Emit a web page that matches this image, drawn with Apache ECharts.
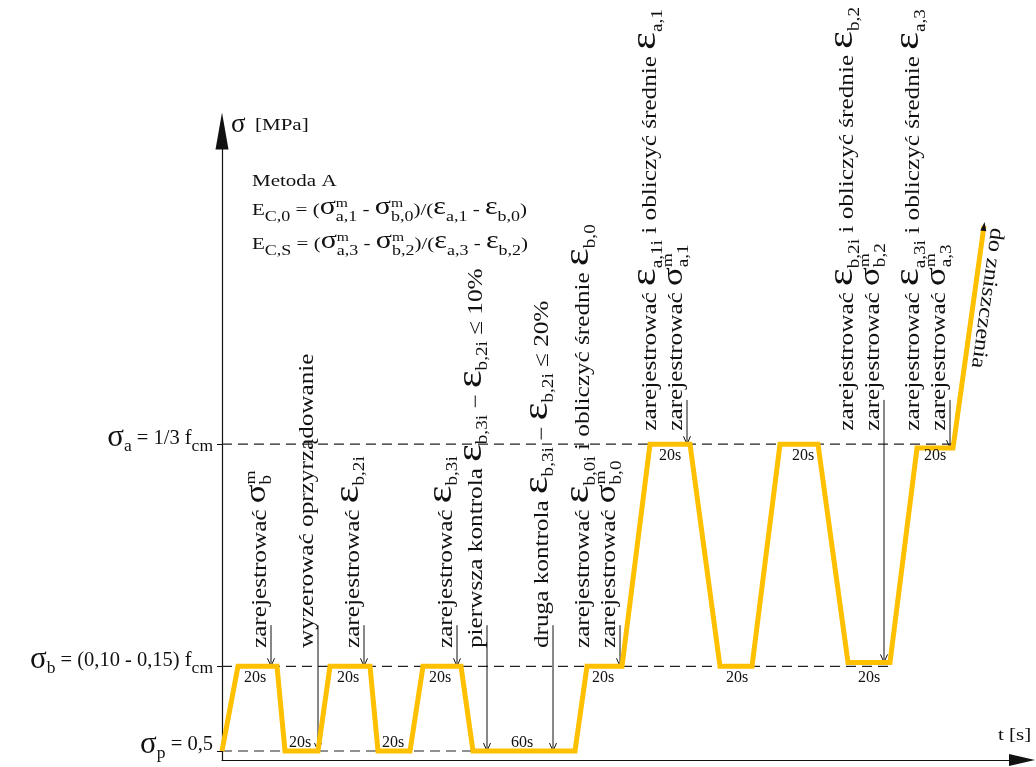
<!DOCTYPE html>
<html>
<head>
<meta charset="utf-8">
<script src="https://cdn.jsdelivr.net/npm/echarts@6/dist/echarts.min.js"></script>
<style>html,body{margin:0;padding:0;background:#fff}#c{width:1036px;height:767px}</style>
</head>
<body>
<div id="c"></div>
<script>
// ---------------- data ----------------
// stress levels in relative units (the diagram is not to scale)
const levelValues = [1.4, 14.6, 49.2];               // sigma_p, sigma_b, sigma_a
const levelLabels = [
  '{g|σ}{sub|p}{n| = 0,5}',
  '{g|σ}{sub|b}{n| = (0,10 - 0,15) f}{sub|cm}',
  '{g|σ}{sub|a}{n| = 1/3 f}{sub|cm}'
];
const levelLineEnds = [176.5, 334, 365.5];           // time where each dashed level line ends [s]

// loading programme: time [s] and stress
const profileTimes  = [0, 8, 27.5, 31.5, 48, 54, 74, 78, 94, 100.5, 119.5, 125.5, 176.5, 182.5, 200, 214, 234, 249, 265, 279, 298, 313, 334, 347.5, 365.5, 381];
const profileStress = [1.4, 14.6, 14.6, 1.4, 1.4, 14.6, 14.6, 1.4, 1.4, 14.6, 14.6, 1.4, 1.4, 14.6, 14.6, 49.2, 49.2, 14.6, 14.6, 49.2, 49.2, 15.2, 15.2, 48.6, 48.6, 83.2];

// holding-time labels
const durationTimes  = [16.5, 39, 63, 85.5, 109, 150, 190.5, 224, 257.5, 290.5, 323.5, 356.5];
const durationLevels = [14.6, 1.4, 14.6, 1.4, 14.6, 1.4, 14.6, 49.2, 14.6, 49.2, 14.6, 49.2];
const durationTexts  = ['20s', '20s', '20s', '20s', '20s', '60s', '20s', '20s', '20s', '20s', '20s', '20s'];

// instructions with arrows
const noteTimes     = [24.5, 48, 71, 117.5, 132.5, 165.5, 199, 232.5, 331, 364];
const noteArrowFrom = [21, 21, 21, 21, 21, 21, 21, 56.1, 56.1, 56.1];
const noteArrowTo   = [14.6, 1.4, 14.6, 14.6, 1.4, 1.4, 14.6, 49.2, 15.2, 48.6];
const noteTextFrom  = [17.45, 17.45, 17.45, 17.45, 17.45, 17.45, 17.45, 51.3, 51.3, 51.3];
const noteTexts = [
  ['{n|zarejestrować }{g|σ}{sup|m}{sub|b}'],
  ['{n|wyzerować oprzyrządowanie}'],
  ['{n|zarejestrować }{e|ε}{sub|b,2i}'],
  ['{n|zarejestrować }{e|ε}{sub|b,3i}'],
  ['{n|pierwsza kontrola }{e|ε}{sub|b,3i}{n| − }{e|ε}{sub|b,2i}{n| ≤ 10%}'],
  ['{n|druga kontrola }{e|ε}{sub|b,3i}{n| − }{e|ε}{sub|b,2i}{n| ≤ 20%}'],
  ['{n|zarejestrować }{e|ε}{sub|b,0i}{n| i obliczyć średnie }{e|ε}{sub|b,0}', '{n|zarejestrować }{g|σ}{sup|m}{sub|b,0}'],
  ['{n|zarejestrować }{e|ε}{sub|a,1i}{n| i obliczyć średnie }{e|ε}{sub|a,1}', '{n|zarejestrować }{g|σ}{sup|m}{sub|a,1}'],
  ['{n|zarejestrować }{e|ε}{sub|b,2i}{n| i obliczyć średnie }{e|ε}{sub|b,2}', '{n|zarejestrować }{g|σ}{sup|m}{sub|b,2}'],
  ['{n|zarejestrować }{e|ε}{sub|a,3i}{n| i obliczyć średnie }{e|ε}{sub|a,3}', '{n|zarejestrować }{g|σ}{sup|m}{sub|a,3}']
];
const failureText = 'do zniszczenia';

const formulaLines = [
  '{n|Metoda A}',
  '{n|E}{sub|C,0}{n| = (}{g|σ}{sup|m}{sub|a,1}{n| - }{g|σ}{sup|m}{sub|b,0}{n|)/(}{g|ε}{sub|a,1}{n| - }{g|ε}{sub|b,0}{n|)}',
  '{n|E}{sub|C,S}{n| = (}{g|σ}{sup|m}{sub|a,3}{n| - }{g|σ}{sup|m}{sub|b,2}{n|)/(}{g|ε}{sub|a,3}{n| - }{g|ε}{sub|b,2}{n|)}'
];
const yAxisName = '[MPa]';
const xAxisName = 't [s]';

// ---------------- styles ----------------
const INK = '#111';
const ORANGE = '#FFC000';
const SERIF = '"Liberation Serif", "Times New Roman", Times, serif';

const RICH_ROT = {
  n:   {fontFamily: SERIF, fontSize: 21, lineHeight: 30, verticalAlign: 'middle', fill: INK},
  g:   {fontFamily: SERIF, fontSize: 29, lineHeight: 30, verticalAlign: 'middle', padding: [0, 0, 5, 0], fill: INK},
  e:   {fontFamily: SERIF, fontSize: 35, lineHeight: 30, verticalAlign: 'middle', padding: [0, 0, 9, 0], fill: INK},
  sub: {fontFamily: SERIF, fontSize: 16, lineHeight: 30, verticalAlign: 'middle', padding: [14, 0, 0, 0], fill: INK},
  sup: {fontFamily: SERIF, fontSize: 15, lineHeight: 30, verticalAlign: 'middle', padding: [0, -11.7, 17, 0], fill: INK}
};
const RICH_HOR = {
  n:   {fontFamily: SERIF, fontSize: 17.5, lineHeight: 26, verticalAlign: 'middle', fill: INK},
  g:   {fontFamily: SERIF, fontSize: 25, lineHeight: 26, verticalAlign: 'middle', padding: [0, 0, 5, 0], fill: INK},
  sub: {fontFamily: SERIF, fontSize: 15, lineHeight: 26, verticalAlign: 'middle', padding: [13.5, 0, 0, 0], fill: INK},
  sup: {fontFamily: SERIF, fontSize: 13, lineHeight: 26, verticalAlign: 'middle', padding: [0, -10.1, 13, 0], fill: INK}
};
const RICH_AXIS = {
  n:   {fontFamily: SERIF, fontSize: 20.5, lineHeight: 30, verticalAlign: 'middle', color: INK},
  g:   {fontFamily: SERIF, fontSize: 31, lineHeight: 30, verticalAlign: 'middle', color: INK},
  sub: {fontFamily: SERIF, fontSize: 17.5, lineHeight: 30, verticalAlign: 'middle', padding: [17, 0, 0, 0], color: INK}
};

// ---------------- render helpers ----------------
function renderDuration(params, api) {
  const i = params.dataIndex;
  const p = api.coord([durationTimes[i], durationLevels[i]]);
  const above = durationLevels[i] === levelValues[0];
  return {
    type: 'text', x: p[0], y: p[1] + (above ? -8 : 12),
    style: {legacy: false, text: durationTexts[i], fontFamily: SERIF, fontSize: 16, fill: INK, align: 'center', verticalAlign: 'middle'}
  };
}

function renderNote(params, api) {
  const i = params.dataIndex;
  const top = api.coord([noteTimes[i], noteArrowFrom[i]]);
  const tip = api.coord([noteTimes[i], noteArrowTo[i]]);
  const base = api.coord([noteTimes[i], noteTextFrom[i]]);
  const lines = noteTexts[i];
  const children = [
    {type: 'line', shape: {x1: top[0], y1: top[1], x2: tip[0], y2: tip[1]}, style: {stroke: INK, lineWidth: 1}},
    {type: 'polyline', shape: {points: [[tip[0] - 3.5, tip[1] - 8], [tip[0], tip[1]], [tip[0] + 3.5, tip[1] - 8]]}, style: {stroke: INK, fill: null, lineWidth: 1}}
  ];
  lines.forEach(function (txt, k) {
    const dx = (lines.length === 1 ? -11 : -10.5) - 26 * (lines.length - 1 - k);
    children.push({
      type: 'text', x: base[0] + dx, y: base[1], rotation: Math.PI / 2, scaleX: 1.2, scaleY: 1,
      style: {legacy: false, text: txt, rich: RICH_ROT, fill: INK, fontFamily: SERIF, fontSize: 21, align: 'left', verticalAlign: 'middle'}
    });
  });
  return {type: 'group', children: children};
}

function renderFailure(params, api) {
  const n = profileTimes.length;
  const a = api.coord([profileTimes[n - 2], profileStress[n - 2]]);
  const b = api.coord([profileTimes[n - 1], profileStress[n - 1]]);
  const vx = a[0] - b[0], vy = a[1] - b[1];
  const len = Math.sqrt(vx * vx + vy * vy);
  const ux = vx / len, uy = vy / len;          // unit vector pointing down along the line
  const nx = -uy, ny = ux;                       // normal
  const px = -nx, py = -ny;                      // normal to the right side
  const f = 0.317;
  const mx = b[0] + vx * f + px * 13, my = b[1] + vy * f + py * 13;
  const ang = Math.atan2(vy, vx);
  const tipX = b[0] - ux * 4, tipY = b[1] - uy * 4;
  return {
    type: 'group',
    children: [
      {type: 'polygon', shape: {points: [[tipX, tipY], [tipX + ux * 9 + nx * 3, tipY + uy * 9 + ny * 3], [tipX + ux * 9 - nx * 3, tipY + uy * 9 - ny * 3]]}, style: {fill: INK}},
      {type: 'text', x: mx, y: my, rotation: -ang, scaleX: 1.15,
       style: {legacy: false, text: failureText, fontFamily: SERIF, fontSize: 21, fill: INK, align: 'center', verticalAlign: 'middle'}}
    ]
  };
}

// ---------------- option ----------------
const chart = echarts.init(document.getElementById('c'), null, {renderer: 'canvas'});

const series = [];
levelValues.forEach(function (v, i) {
  series.push({
    type: 'line', silent: true, symbol: 'none', z: 2,
    data: [[0, v], [levelLineEnds[i], v]],
    lineStyle: {color: '#222', width: 1.2, type: [10, 6]}
  });
});
series.push({
  type: 'line', silent: true, symbol: 'none', z: 5,
  data: profileTimes.map(function (t, i) { return [t, profileStress[i]]; }),
  lineStyle: {color: ORANGE, width: 5, cap: 'butt', join: 'miter'}
});
series.push({
  type: 'custom', coordinateSystem: 'cartesian2d', silent: true, clip: false, z: 6,
  data: durationTimes.map(function (t, i) { return [t, durationLevels[i]]; }),
  renderItem: renderDuration
});
series.push({
  type: 'custom', coordinateSystem: 'cartesian2d', silent: true, clip: false, z: 4,
  data: noteTimes.map(function (t, i) { return [t, noteArrowTo[i]]; }),
  renderItem: renderNote
});
series.push({
  type: 'custom', coordinateSystem: 'cartesian2d', silent: true, clip: false, z: 6,
  data: [[profileTimes[profileTimes.length - 1], profileStress[profileStress.length - 1]]],
  renderItem: renderFailure
});

const option = {
  animation: false,
  backgroundColor: '#fff',
  grid: {left: 222, right: 14, top: 131, bottom: 7, containLabel: false},
  xAxis: {
    type: 'value', min: 0, max: 400,
    axisLine: {show: true, symbol: ['none', 'triangle'], symbolSize: [12, 26], lineStyle: {color: INK, width: 1.2}},
    axisTick: {show: false}, axisLabel: {show: false}, splitLine: {show: false}
  },
  yAxis: {
    type: 'value', min: 0, max: 98,
    axisLine: {show: true, symbol: ['none', 'triangle'], symbolSize: [13, 37], lineStyle: {color: INK, width: 1.2}},
    axisTick: {show: true, customValues: levelValues, length: 5, lineStyle: {color: INK, width: 1}},
    axisLabel: {
      show: true, customValues: levelValues, margin: 9, padding: [0, 0, 12, 0],
      formatter: function (v) { const k = levelValues.indexOf(v); return k < 0 ? '' : levelLabels[k]; },
      rich: RICH_AXIS
    },
    splitLine: {show: false}
  },
  graphic: [
    {type: 'text', x: 231, y: 125, silent: true,
     style: {legacy: false, text: 'σ', fontFamily: SERIF, fontSize: 27, fill: INK, align: 'left', verticalAlign: 'middle'}},
    {type: 'text', x: 255, y: 125, scaleX: 1.2, silent: true,
     style: {legacy: false, text: yAxisName, fontFamily: SERIF, fontSize: 17.5, fill: INK, align: 'left', verticalAlign: 'middle'}},
    {type: 'text', x: 998, y: 735, scaleX: 1.2, silent: true,
     style: {legacy: false, text: xAxisName, fontFamily: SERIF, fontSize: 17.5, fill: INK, align: 'left', verticalAlign: 'middle'}},
    {type: 'text', x: 252, y: 181.5, scaleX: 1.2, silent: true,
     style: {legacy: false, text: formulaLines[0], rich: RICH_HOR, fontFamily: SERIF, fontSize: 17.5, fill: INK, align: 'left', verticalAlign: 'middle'}},
    {type: 'text', x: 252, y: 210, scaleX: 1.2, silent: true,
     style: {legacy: false, text: formulaLines[1], rich: RICH_HOR, fontFamily: SERIF, fontSize: 17.5, fill: INK, align: 'left', verticalAlign: 'middle'}},
    {type: 'text', x: 252, y: 244, scaleX: 1.2, silent: true,
     style: {legacy: false, text: formulaLines[2], rich: RICH_HOR, fontFamily: SERIF, fontSize: 17.5, fill: INK, align: 'left', verticalAlign: 'middle'}}
  ],
  series: series
};
chart.setOption(option);
</script>
</body>
</html>
